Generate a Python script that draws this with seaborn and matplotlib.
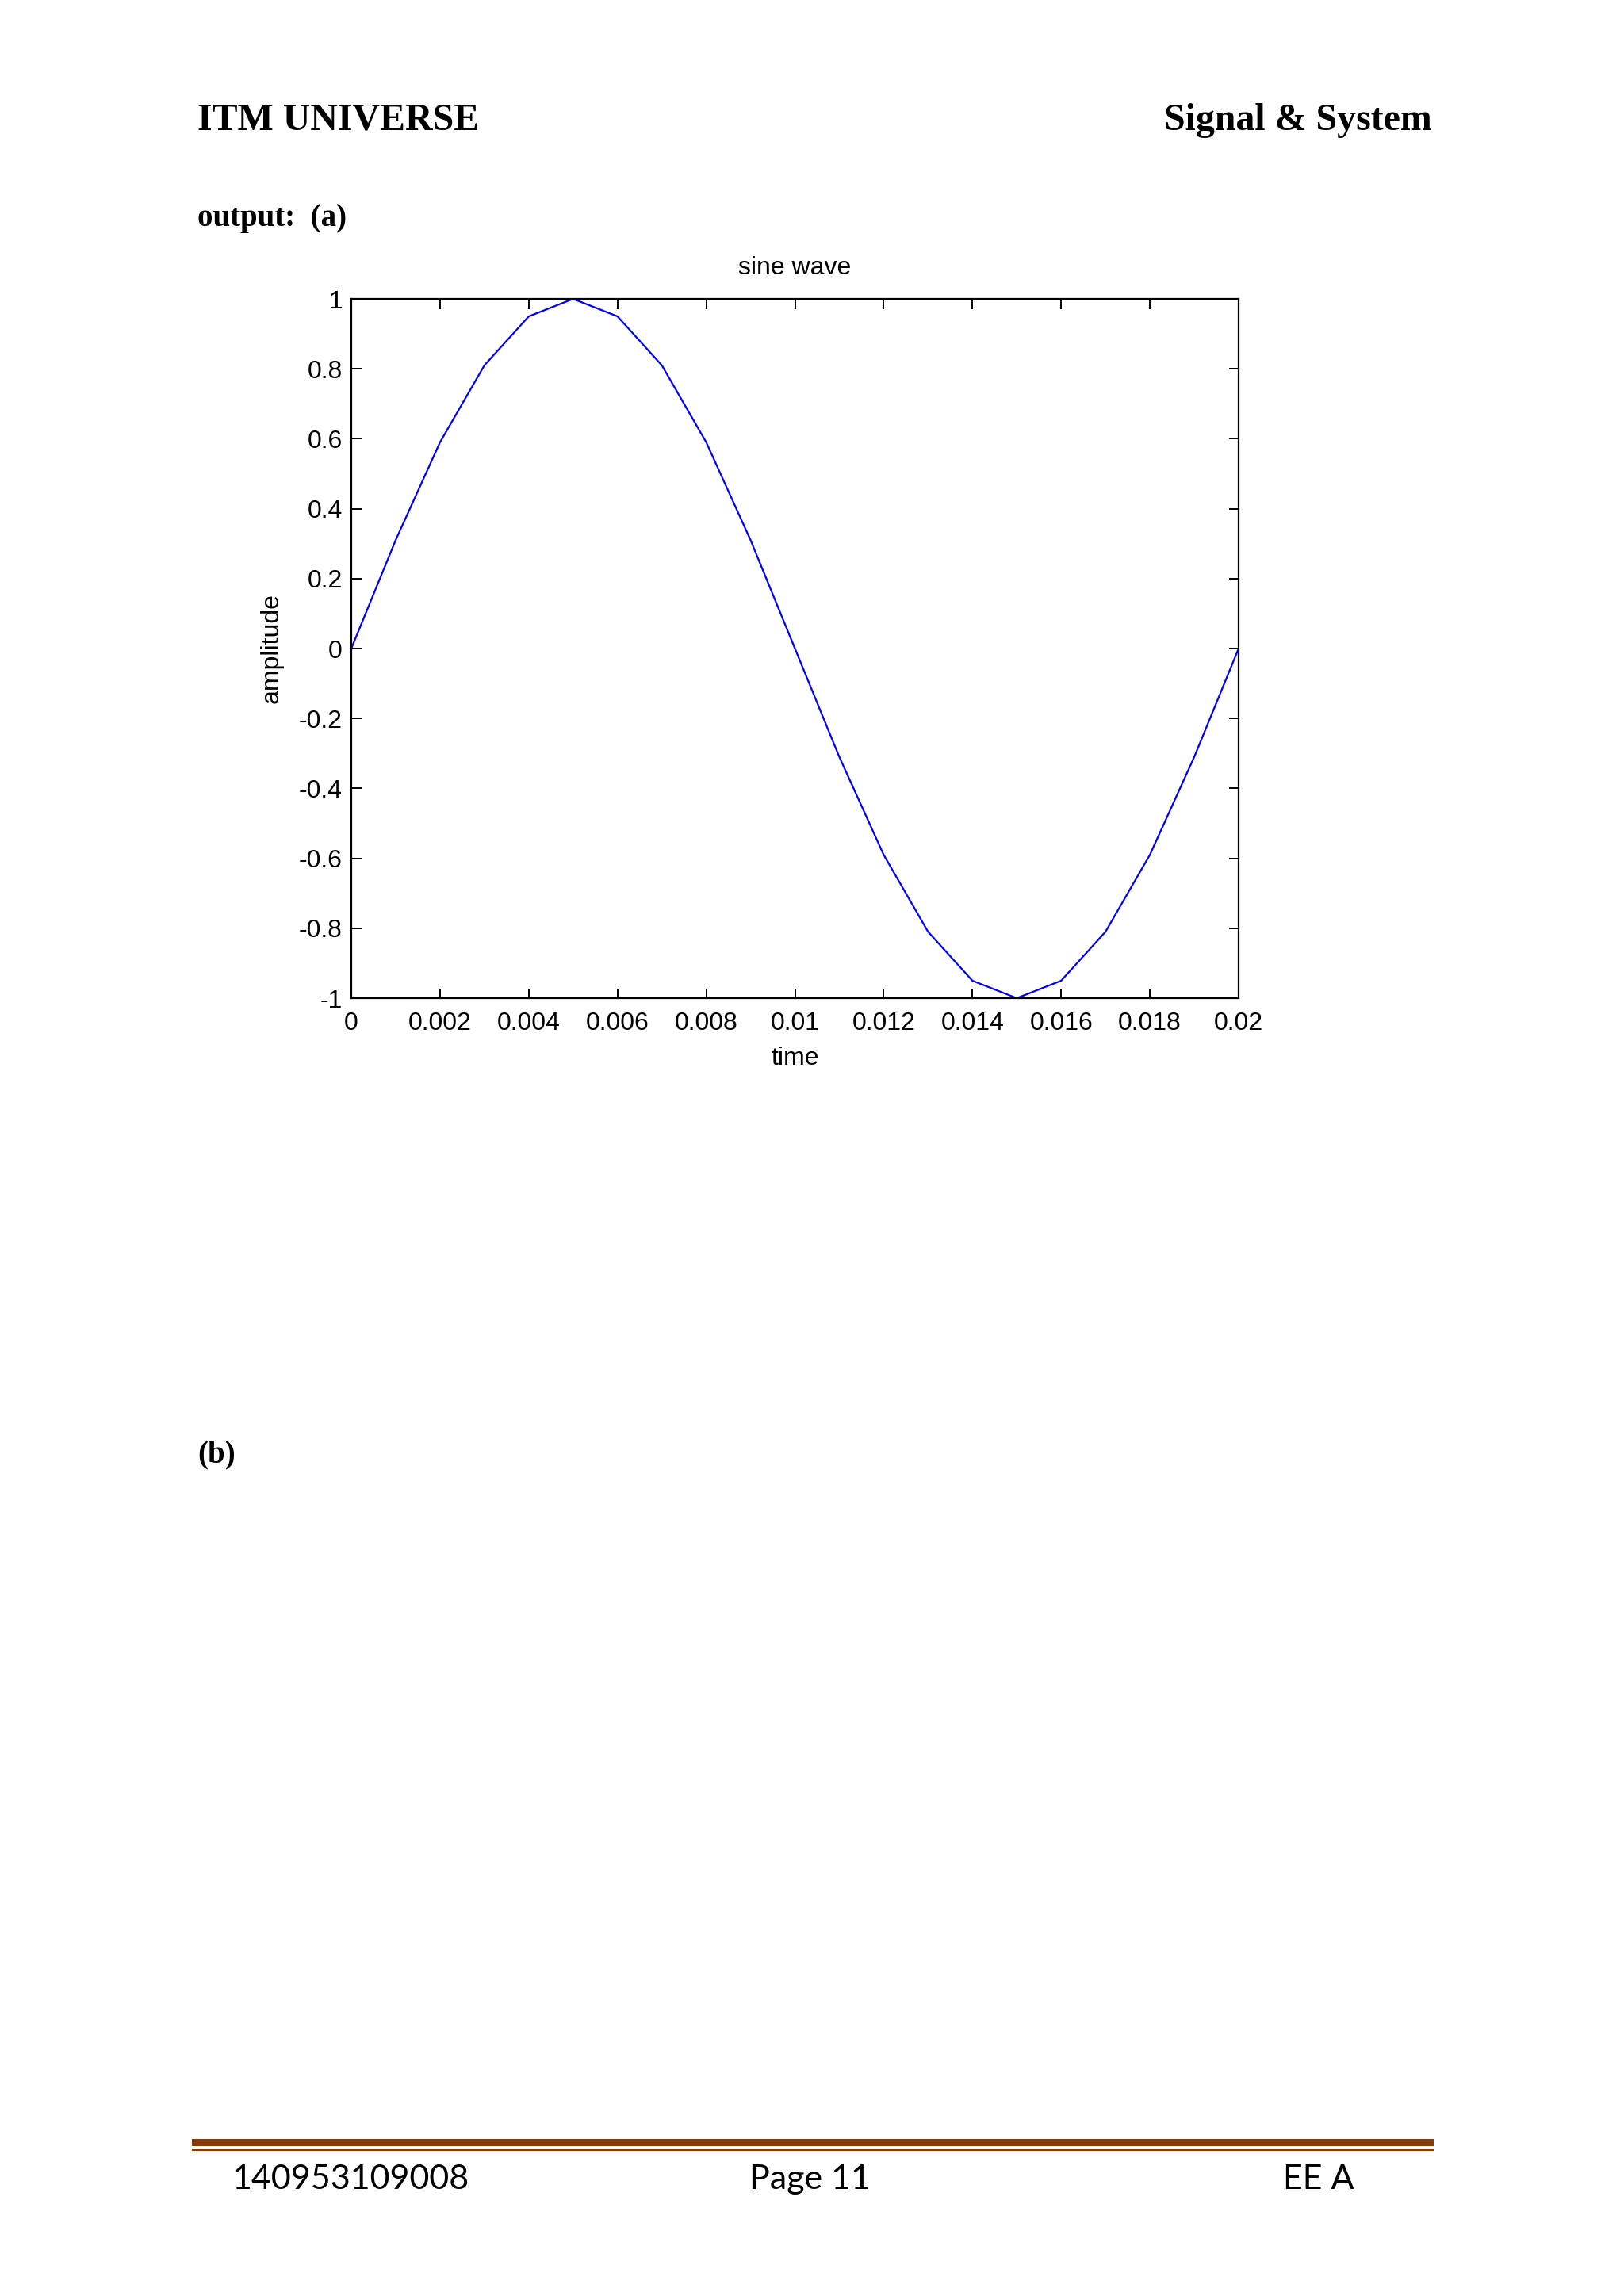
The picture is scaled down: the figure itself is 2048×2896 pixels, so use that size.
import matplotlib
matplotlib.use("Agg")
import matplotlib.pyplot as plt
from matplotlib.patches import Rectangle
from matplotlib.ticker import FixedLocator, FuncFormatter
import seaborn as sns
import pandas as pd

# ---- data ----
time = [0.000, 0.001, 0.002, 0.003, 0.004, 0.005, 0.006, 0.007, 0.008, 0.009, 0.010,
        0.011, 0.012, 0.013, 0.014, 0.015, 0.016, 0.017, 0.018, 0.019, 0.020]
amplitude = [0.0, 0.31, 0.59, 0.81, 0.95, 1.0, 0.95, 0.81, 0.59, 0.31, 0.0,
             -0.31, -0.59, -0.81, -0.95, -1.0, -0.95, -0.81, -0.59, -0.31, 0.0]
x_ticks = [0, 0.002, 0.004, 0.006, 0.008, 0.01, 0.012, 0.014, 0.016, 0.018, 0.02]
y_ticks = [-1, -0.8, -0.6, -0.4, -0.2, 0, 0.2, 0.4, 0.6, 0.8, 1]

title_text = "sine wave"
x_label = "time"
y_label = "amplitude"
header_left = "ITM UNIVERSE"
header_right = "Signal & System"
label_a = "output:  (a)"
label_b = "(b)"
footer_left = "140953109008"
footer_mid = "Page 11"
footer_right = "EE A"

df = pd.DataFrame({"time": time, "amplitude": amplitude})

sns.set_theme(style="white")
plt.rcParams["axes.unicode_minus"] = False
plt.rcParams["font.family"] = ["Liberation Sans", "DejaVu Sans"]

W, H = 2048, 2896
fig = plt.figure(figsize=(W / 100, H / 100), dpi=100)
fig.patch.set_facecolor("white")


def fx(px):
    return px / W


def fy(py):
    return 1 - py / H


left, right, top, bottom = 443, 1562, 377, 1259
ax = fig.add_axes([fx(left), fy(bottom), fx(right - left), (bottom - top) / H])
ax.set_facecolor("white")

sns.lineplot(data=df, x="time", y="amplitude", ax=ax, color=(0, 0, 1), linewidth=1.6)

ax.set_xlim(0, 0.02)
ax.set_ylim(-1, 1)
ax.xaxis.set_major_locator(FixedLocator(x_ticks))
ax.yaxis.set_major_locator(FixedLocator(y_ticks))
fmt = FuncFormatter(lambda v, p: ("%g" % round(v, 6)))
ax.xaxis.set_major_formatter(fmt)
ax.yaxis.set_major_formatter(fmt)

for s in ax.spines.values():
    s.set_visible(True)
    s.set_color("black")
    s.set_linewidth(1.6)

ax.tick_params(axis="both", which="major", direction="in", length=9, width=1.4,
               colors="black", labelsize=23, top=True, right=True,
               bottom=True, left=True, labelcolor="black")
ax.tick_params(axis="x", pad=12)
ax.tick_params(axis="y", pad=8)

ax.set_title(title_text, fontsize=23, color="black", pad=22)
ax.set_xlabel(x_label, fontsize=23, color="black", labelpad=10)
ax.set_ylabel(y_label, fontsize=23, color="black", labelpad=14)
ax.grid(False)

# ---- page text ----
serif = ["Liberation Serif", "DejaVu Serif"]
fig.text(fx(249), fy(152), header_left, family=serif, fontweight="bold",
         fontsize=34.5, ha="left", va="center", color="black")
fig.text(fx(1806), fy(152), header_right, family=serif, fontweight="bold",
         fontsize=34.5, ha="right", va="center", color="black")
fig.text(fx(249), fy(276), label_a, family=serif, fontweight="bold",
         fontsize=28, ha="left", va="center", color="black")
fig.text(fx(249), fy(1835), label_b, family=serif, fontweight="bold",
         fontsize=28, ha="left", va="center", color="black")

# ---- footer ----
brown = "#843C0C"
fig.add_artist(Rectangle((fx(242), fy(2707)), fx(1808 - 242), 9 / H,
                         transform=fig.transFigure, facecolor=brown, edgecolor="none"))
fig.add_artist(Rectangle((fx(242), fy(2713)), fx(1808 - 242), 3 / H,
                         transform=fig.transFigure, facecolor=brown, edgecolor="none"))

foot = ["Lato", "DejaVu Sans"]
fig.text(fx(292), fy(2749), footer_left, family=foot, fontsize=31,
         ha="left", va="center", color="black")
fig.text(fx(1021), fy(2749), footer_mid, family=foot, fontsize=31,
         ha="center", va="center", color="black")
fig.text(fx(1618), fy(2749), footer_right, family=foot, fontsize=31,
         ha="left", va="center", color="black")

fig.savefig("out.png", dpi=100, facecolor="white")
